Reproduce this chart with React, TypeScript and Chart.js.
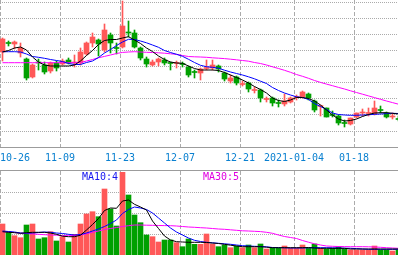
import { useEffect, useRef } from 'react';
import { Chart, registerables } from 'chart.js';

Chart.register(...registerables);

// ---- data -------------------------------------------------------------
const DATE_TICKS = [0, 10, 20, 30, 40, 49, 59];
const DATE_LABELS = ['10-26', '11-09', '11-23', '12-07', '12-21', '2021-01-04', '01-18'];

const OPEN = [11.48, 11.57, 11.56, 11.47, 11.41, 11.23, 11.38, 11.35, 11.29, 11.37, 11.36, 11.40, 11.37, 11.37, 11.46, 11.57, 11.60, 11.50, 11.65, 11.52, 11.53, 11.68, 11.67, 11.52, 11.41, 11.35, 11.38, 11.40, 11.37, 11.365, 11.36, 11.33, 11.28, 11.27, 11.315, 11.32, 11.34, 11.27, 11.19, 11.23, 11.155, 11.17, 11.095, 11.10, 11.005, 11.02, 10.97, 10.96, 10.98, 11.025, 11.03, 11.06, 10.99, 10.935, 10.92, 10.85, 10.84, 10.77, 10.76, 10.83, 10.87, 10.865, 10.86, 10.90, 10.87, 10.83, 10.81];
const HIGH = [11.62, 11.59, 11.59, 11.57, 11.42, 11.36, 11.41, 11.38, 11.38, 11.39, 11.41, 11.42, 11.45, 11.52, 11.58, 11.67, 11.61, 11.76, 11.67, 11.57, 11.99, 11.79, 11.70, 11.53, 11.43, 11.40, 11.42, 11.42, 11.38, 11.39, 11.38, 11.34, 11.30, 11.32, 11.40, 11.40, 11.35, 11.28, 11.25, 11.24, 11.19, 11.18, 11.13, 11.11, 11.03, 11.03, 11.00, 11.06, 11.03, 11.05, 11.09, 11.07, 11.00, 10.95, 10.92, 10.89, 10.85, 10.80, 10.82, 10.87, 10.91, 10.92, 10.99, 10.94, 10.88, 10.87, 10.84];
const LOW = [11.39, 11.54, 11.51, 11.43, 11.20, 11.22, 11.30, 11.26, 11.27, 11.29, 11.35, 11.36, 11.33, 11.35, 11.45, 11.53, 11.44, 11.48, 11.47, 11.46, 11.52, 11.63, 11.52, 11.40, 11.33, 11.34, 11.34, 11.35, 11.30, 11.32, 11.33, 11.23, 11.22, 11.20, 11.30, 11.30, 11.28, 11.19, 11.17, 11.15, 11.14, 11.08, 11.07, 10.98, 10.98, 10.94, 10.93, 10.94, 10.97, 11.00, 11.02, 11.00, 10.88, 10.84, 10.83, 10.83, 10.75, 10.73, 10.75, 10.82, 10.84, 10.84, 10.85, 10.87, 10.82, 10.81, 10.79];
const CLOSE = [11.61, 11.565, 11.58, 11.52, 11.22, 11.35, 11.37, 11.28, 11.37, 11.32, 11.39, 11.37, 11.38, 11.48, 11.57, 11.63, 11.56, 11.70, 11.57, 11.515, 11.74, 11.67, 11.53, 11.42, 11.36, 11.38, 11.41, 11.37, 11.365, 11.37, 11.355, 11.25, 11.275, 11.31, 11.32, 11.35, 11.31, 11.21, 11.22, 11.17, 11.16, 11.11, 11.10, 11.02, 11.01, 10.97, 10.965, 10.99, 11.02, 11.03, 11.08, 11.02, 10.90, 10.94, 10.83, 10.845, 10.77, 10.765, 10.82, 10.87, 10.875, 10.87, 10.92, 10.895, 10.83, 10.835, 10.805];

const MA5 = [11.48, 11.495, 11.52, 11.53, 11.50, 11.43, 11.38, 11.35, 11.34, 11.34, 11.34, 11.34, 11.35, 11.39, 11.445, 11.495, 11.555, 11.595, 11.605, 11.605, 11.62, 11.633, 11.60, 11.565, 11.52, 11.485, 11.44, 11.405, 11.38, 11.37, 11.367, 11.34, 11.315, 11.30, 11.30, 11.30, 11.295, 11.275, 11.25, 11.225, 11.20, 11.17, 11.135, 11.105, 11.07, 11.02, 10.995, 10.985, 11.00, 11.025, 11.025, 11.015, 10.99, 10.95, 10.90, 10.85, 10.81, 10.79, 10.795, 10.81, 10.835, 10.855, 10.87, 10.873, 10.873, 10.867, 10.86];
const MA10 = [11.483, 11.483, 11.483, 11.48, 11.46, 11.435, 11.427, 11.417, 11.405, 11.395, 11.385, 11.365, 11.355, 11.355, 11.375, 11.39, 11.425, 11.47, 11.505, 11.545, 11.58, 11.607, 11.605, 11.59, 11.572, 11.55, 11.527, 11.495, 11.475, 11.457, 11.437, 11.407, 11.375, 11.347, 11.333, 11.327, 11.318, 11.298, 11.28, 11.265, 11.25, 11.232, 11.212, 11.188, 11.165, 11.125, 11.095, 11.07, 11.05, 11.032, 11.025, 11.005, 10.965, 10.935, 10.905, 10.87, 10.855, 10.85, 10.847, 10.847, 10.85, 10.852, 10.857, 10.86, 10.864, 10.867, 10.865];
const MA30 = [11.373, 11.373, 11.373, 11.373, 11.373, 11.373, 11.373, 11.373, 11.373, 11.373, 11.373, 11.373, 11.373, 11.375, 11.39, 11.405, 11.422, 11.436, 11.45, 11.465, 11.476, 11.48, 11.483, 11.48, 11.477, 11.475, 11.472, 11.468, 11.462, 11.457, 11.445, 11.435, 11.432, 11.43, 11.427, 11.422, 11.418, 11.414, 11.408, 11.402, 11.395, 11.388, 11.375, 11.365, 11.35, 11.332, 11.315, 11.297, 11.277, 11.255, 11.237, 11.217, 11.195, 11.176, 11.159, 11.143, 11.126, 11.11, 11.092, 11.075, 11.058, 11.041, 11.024, 11.007, 10.99, 10.974, 10.958];

// volume in 万手
const VOLUME = [3.1, 2.33, 1.93, 1.73, 3.0, 3.1, 1.6, 1.73, 2.33, 1.4, 1.83, 1.3, 2.07, 3.1, 4.1, 4.33, 3.83, 6.6, 4.6, 2.9, 8.27, 6.0, 4.0, 3.23, 2.0, 1.83, 1.3, 1.5, 1.5, 1.23, 0.83, 1.6, 1.07, 1.07, 2.1, 1.1, 0.83, 1.0, 0.73, 0.9, 0.73, 1.0, 0.73, 1.1, 0.6, 0.73, 0.67, 0.9, 0.67, 0.67, 1.0, 0.67, 1.1, 0.67, 0.6, 0.67, 0.83, 0.6, 0.5, 0.5, 0.5, 0.5, 0.9, 0.5, 0.5, 0.4, 0.5];
const VOL_MA5 = [2.33, 2.27, 2.23, 2.17, 2.23, 2.27, 2.27, 2.27, 2.2, 2.07, 1.88, 1.83, 1.83, 1.98, 2.5, 3.05, 3.65, 4.45, 4.7, 4.67, 5.4, 5.5, 5.07, 4.8, 4.5, 3.4, 2.65, 1.9, 1.5, 1.33, 1.3, 1.27, 1.27, 1.27, 1.25, 1.2, 1.15, 1.07, 0.98, 0.9, 0.83, 0.83, 0.83, 0.83, 0.78, 0.73, 0.73, 0.73, 0.73, 0.73, 0.73, 0.75, 0.7, 0.67, 0.67, 0.67, 0.67, 0.67, 0.6, 0.6, 0.6, 0.6, 0.6, 0.6, 0.6, 0.6, 0.6];
const VOL_MA10 = [2.4, 2.35, 2.3, 2.2, 2.17, 2.2, 2.25, 2.3, 2.27, 2.2, 2.15, 2.07, 2.0, 2.05, 2.2, 2.4, 2.6, 2.85, 3.15, 3.5, 4.15, 4.55, 4.8, 4.7, 4.55, 4.2, 3.7, 3.2, 2.7, 2.3, 2.0, 1.7, 1.47, 1.35, 1.27, 1.22, 1.17, 1.12, 1.07, 1.0, 0.93, 0.9, 0.87, 0.85, 0.82, 0.75, 0.74, 0.72, 0.7, 0.7, 0.7, 0.72, 0.73, 0.73, 0.73, 0.72, 0.7, 0.68, 0.67, 0.64, 0.6, 0.57, 0.57, 0.57, 0.57, 0.57, 0.57];
const VOL_MA30 = [2.33, 2.3, 2.25, 2.18, 2.15, 2.1, 2.07, 2.03, 2.0, 1.98, 1.95, 1.93, 1.95, 2.0, 2.12, 2.27, 2.4, 2.55, 2.65, 2.75, 2.85, 2.93, 3.0, 3.0, 2.98, 2.97, 2.95, 2.94, 2.93, 2.9, 2.85, 2.8, 2.77, 2.73, 2.7, 2.65, 2.6, 2.57, 2.52, 2.47, 2.42, 2.4, 2.37, 2.34, 2.27, 2.17, 2.0, 1.85, 1.75, 1.65, 1.45, 1.28, 1.12, 1.0, 0.9, 0.87, 0.85, 0.84, 0.83, 0.83, 0.83, 0.82, 0.8, 0.77, 0.73, 0.7, 0.67];

// horizontal grid levels
const PRICE_GRID = [11.97, 11.81, 11.65, 11.49, 11.33, 11.17, 11.01, 10.85, 10.69];
const VOLUME_GRID = [2.1, 4.2, 6.3];

// ---- look -------------------------------------------------------------
const WIDTH = 398;
const MAIN_HEIGHT = 170;
const PLOT_HEIGHT = 147;
const VOL_HEIGHT = 84;
const SLOT_PX = 6; // each trading day takes 6px
const SHIFT = 2.5 / SLOT_PX; // candle centre sits 2.5px into its slot
const X_MIN = -SHIFT;
const X_MAX = X_MIN + WIDTH / SLOT_PX;
const PRICE_MAX = 12.0;
const PRICE_MIN = 10.53;
const VOL_MAX = 8.4;

const RED = '#ff5858';
const GREEN = '#00a000';
const GRID = '#ababab';
const AXIS = '#9c9c9c';
const MONO = '"DejaVu Sans Mono", monospace';

const candleColors = CLOSE.map((c, i) => (c >= OPEN[i] ? RED : GREEN));

function xScale(withLabels: boolean): any {
  return {
    type: 'linear',
    min: X_MIN,
    max: X_MAX,
    offset: false,
    afterBuildTicks: (scale: any) => {
      scale.ticks = [...DATE_TICKS.map((i) => ({ value: i - SHIFT })), { value: X_MAX }];
    },
    afterFit: (scale: any) => {
      scale.height = withLabels ? MAIN_HEIGHT - PLOT_HEIGHT : 0;
      scale.paddingLeft = 0;
      scale.paddingRight = 0;
    },
    grid: {
      display: true,
      drawOnChartArea: true,
      drawTicks: withLabels,
      tickLength: 5.5,
      tickWidth: 0,
      color: GRID,
      lineWidth: 1,
      offset: false,
    },
    border: { display: withLabels, color: AXIS, width: 1, dash: [4, 2] },
    ticks: {
      display: withLabels,
      autoSkip: false,
      maxRotation: 0,
      minRotation: 0,
      align: 'inner',
      padding: 0,
      color: '#0a80d0',
      font: { family: MONO, size: 10 },
      callback: (_v: any, i: number) => DATE_LABELS[i] ?? '',
    },
  };
}

function yScale(min: number, max: number, levels: number[]): any {
  return {
    type: 'linear',
    min,
    max,
    beginAtZero: false,
    afterBuildTicks: (scale: any) => {
      scale.ticks = levels.map((value) => ({ value }));
    },
    afterFit: (scale: any) => {
      scale.width = 0;
    },
    grid: { display: true, drawTicks: false, color: GRID, lineWidth: 1 },
    border: { display: false, dash: [1, 1] },
    ticks: { display: false },
  };
}

function maLine(label: string, values: number[], color: string, order: number): any {
  return {
    type: 'line',
    label,
    data: values.map((y, x) => ({ x, y })),
    borderColor: color,
    borderWidth: 1,
    pointRadius: 0,
    tension: 0,
    fill: false,
    order,
  };
}

const baseOptions: any = {
  responsive: false,
  maintainAspectRatio: false,
  animation: false,
  events: [],
  layout: { padding: 0, autoPadding: false },
  plugins: { legend: { display: false }, tooltip: { enabled: false }, title: { display: false } },
};

const maTextPlugin = {
  id: 'maText',
  afterDatasetsDraw(chart: any) {
    const { ctx } = chart;
    ctx.save();
    ctx.font = `10px ${MONO}`;
    ctx.textBaseline = 'alphabetic';
    ctx.textAlign = 'left';
    ctx.fillStyle = '#1414f0';
    ctx.fillText('MA10:4', 82, 9);
    ctx.fillStyle = '#e000e0';
    ctx.fillText('MA30:5', 203, 9);
    ctx.restore();
  },
};

export default function App() {
  const mainRef = useRef<HTMLCanvasElement>(null);
  const volRef = useRef<HTMLCanvasElement>(null);

  useEffect(() => {
    const main = new Chart(mainRef.current!, {
      type: 'bar',
      data: {
        datasets: [
          maLine('MA5', MA5, '#000000', 0),
          maLine('MA10', MA10, '#0000ff', 1),
          maLine('MA30', MA30, '#ff00ff', 2),
          {
            type: 'bar',
            label: 'body',
            data: OPEN.map((o, x) => ({ x, y: [o, CLOSE[x]] })),
            backgroundColor: candleColors,
            barThickness: 5,
            maxBarThickness: 5,
            minBarLength: 1,
            grouped: false,
            order: 3,
          },
          {
            type: 'bar',
            label: 'wick',
            data: LOW.map((l, x) => ({ x, y: [l, HIGH[x]] })),
            backgroundColor: candleColors,
            barThickness: 1,
            maxBarThickness: 1,
            grouped: false,
            order: 4,
          },
        ] as any,
      },
      options: {
        ...baseOptions,
        scales: { x: xScale(true), y: yScale(PRICE_MIN, PRICE_MAX, PRICE_GRID) },
      },
    });

    const vol = new Chart(volRef.current!, {
      type: 'bar',
      data: {
        datasets: [
          maLine('MA5', VOL_MA5, '#000000', 0),
          maLine('MA10', VOL_MA10, '#0000ff', 1),
          maLine('MA30', VOL_MA30, '#ff00ff', 2),
          {
            type: 'bar',
            label: 'volume',
            data: VOLUME.map((v, x) => ({ x, y: v })),
            backgroundColor: candleColors,
            barThickness: 5,
            maxBarThickness: 5,
            grouped: false,
            order: 3,
          },
        ] as any,
      },
      options: {
        ...baseOptions,
        scales: { x: xScale(false), y: yScale(0, VOL_MAX, VOLUME_GRID) },
      },
      plugins: [maTextPlugin],
    });

    return () => {
      main.destroy();
      vol.destroy();
    };
  }, []);

  return (
    <div
      style={{
        position: 'fixed',
        left: 0,
        top: 0,
        width: WIDTH,
        height: 255,
        overflow: 'hidden',
        background: '#ffffff',
      }}
    >
      <canvas
        ref={mainRef}
        width={WIDTH}
        height={MAIN_HEIGHT}
        style={{ position: 'absolute', left: 0, top: 0, width: WIDTH, height: MAIN_HEIGHT, display: 'block' }}
      />
      <div
        style={{
          position: 'absolute',
          left: 0,
          top: MAIN_HEIGHT,
          width: WIDTH,
          height: VOL_HEIGHT + 1,
          borderTop: `1px solid ${AXIS}`,
          boxSizing: 'border-box',
        }}
      />
      <canvas
        ref={volRef}
        width={WIDTH}
        height={VOL_HEIGHT}
        style={{ position: 'absolute', left: 0, top: MAIN_HEIGHT + 1, width: WIDTH, height: VOL_HEIGHT, display: 'block' }}
      />
    </div>
  );
}
